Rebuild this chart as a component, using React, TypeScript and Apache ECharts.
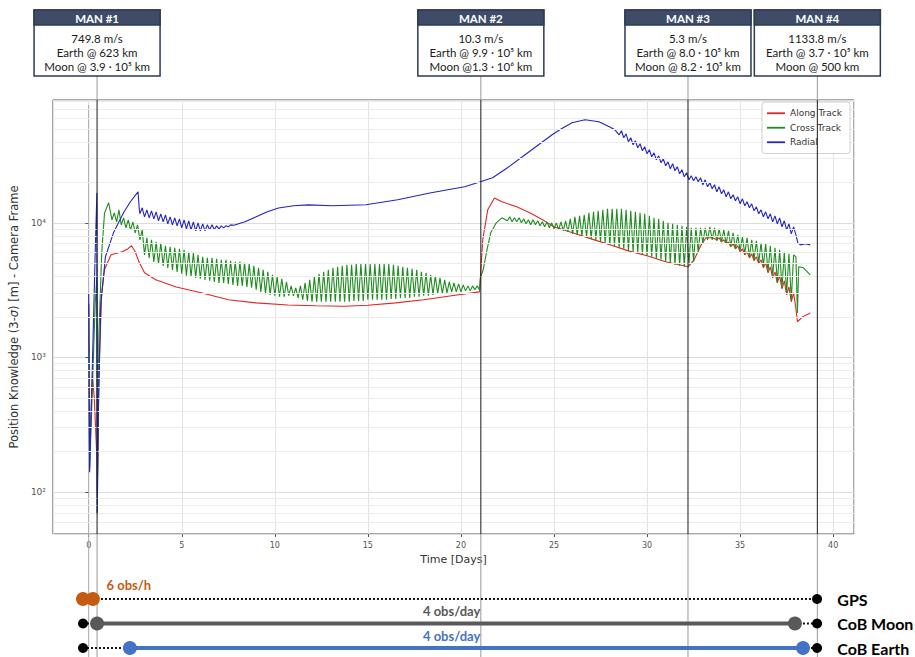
import { useEffect, useRef } from 'react';
import * as echarts from 'echarts';

// ---------------- axes ----------------
const X_MIN = -1.92;
const X_MAX = 41.12;
const Y_MIN = 48.7;
const Y_MAX = 81800;
const TOOTH_STEP = 0.25; // 4 observations per day -> sawtooth period

const seriesNames = ['Along Track', 'Cross Track', 'Radial'];
const seriesColors = ['#e02626', '#1f8c1f', '#2424c0'];

const minorGridValues = [
  60, 70, 80, 90, 200, 300, 400, 500, 600, 700, 800, 900,
  2000, 3000, 4000, 5000, 6000, 7000, 8000, 9000,
  20000, 30000, 40000, 50000, 60000, 70000, 80000,
];

// ---------------- Along Track (red) ----------------
const alongPts = [
  [0, 2500], [0.05, 200], [0.2, 730], [0.3, 500], [0.44, 180], [0.46, 100], [0.55, 800], [0.7, 3000],
  [0.85, 4500], [1.2, 5800], [1.8, 6100], [2.1, 6400], [2.3, 6750], [2.5, 6100], [2.7, 5130], [3.0, 4250],
  [3.6, 3770], [4.7, 3340], [6.1, 3010], [7.5, 2680], [9.0, 2540], [10.7, 2450], [12.2, 2420], [13.7, 2400],
  [15.0, 2440], [16.5, 2540], [18.0, 2680], [19.5, 2870], [21.0, 3070], [21.05, 4000], [21.17, 7470],
  [21.44, 12490], [21.8, 15300], [22.2, 14330], [23.0, 13150], [23.8, 11670], [24.5, 10300], [25.0, 9340],
  [26.0, 8430], [27.0, 7600], [28.0, 6860], [29.0, 6190], [30.0, 5690], [31.0, 5130], [32.21, 4710],
  [32.53, 5310], [32.91, 6860], [33.17, 7740], [33.5, 7740],
];
const alongTeethStart = 33.75;
const alongPeaks = [7740, 7470, 7220, 6980, 6740, 6410, 6090, 5880, 5590, 5310, 5040, 4710, 4320, 4040, 3710, 3340, 3020];
const alongTroughs = [7470, 7220, 6980, 6630, 6410, 6090, 5780, 5490, 5220, 4960, 4630, 4250, 3900, 3580, 3230, 2910, 2590];
const alongEnd = [[38.0, 2300], [38.08, 1840], [38.35, 2000], [38.77, 2140]];

// ---------------- Cross Track (green) ----------------
const crossStart = [
  [0, 2500], [0.05, 150], [0.2, 600], [0.35, 2500], [0.44, 4000], [0.46, 68], [0.55, 1500], [0.7, 6000],
  [0.85, 11800], [1.07, 14100],
];
const crossTeeth1Start = 1.25;
const crossPeaks1 = [
  11870, 12490, 10890, 10530, 10170, 9660, 8870, 7740, 7470, 7220,
  7100, 6740, 6630, 6520, 6410, 6300, 6090, 5980, 5780, 5590,
  5490, 5490, 5400, 5310, 5310, 5220, 5130, 5130, 5040, 4960,
  4790, 4630, 4470, 4320, 4110, 3970, 3840, 3640, 3400, 3290,
  3400, 3580, 3770, 3970, 4180, 4320, 4470, 4630, 4710, 4790,
  4870, 4870, 4960, 4960, 4960, 4960, 4960, 4960, 4960, 4960,
  4870, 4790, 4710, 4630, 4550, 4470, 4320, 4250, 4110, 4040,
  3900, 3770, 3640, 3580, 3520, 3460, 3400, 3400, 3400,
];
const crossTroughs1 = [
  10530, 10170, 9660, 9180, 8870, 8430, 7470, 5780, 5490, 5130,
  4960, 4790, 4630, 4470, 4320, 4180, 4040, 3970, 3900, 3840,
  3770, 3710, 3640, 3580, 3580, 3520, 3460, 3400, 3400, 3340,
  3290, 3180, 3070, 2970, 2910, 2870, 2820, 2820, 2870, 2870,
  2770, 2680, 2630, 2590, 2590, 2590, 2590, 2590, 2590, 2590,
  2590, 2590, 2630, 2630, 2630, 2680, 2680, 2680, 2680, 2680,
  2720, 2720, 2770, 2770, 2770, 2820, 2820, 2870, 2870, 2910,
  2970, 2970, 3020, 3070, 3070, 3070, 3120, 3120, 3180,
];
const crossMid = [[21.0, 3180], [21.05, 3900], [21.2, 4500], [21.4, 6300], [21.6, 8430], [21.9, 10000], [22.2, 10900]];
const crossTeeth2Start = 22.5;
const crossPeaks2 = [
  11080, 10890, 10890, 10710, 10530, 10530, 10350, 10170, 10170, 10000,
  10000, 10170, 10350, 10710, 11080, 11270, 11470, 11870, 12070, 12280,
  12490, 12710, 12710, 12710, 12710, 12490, 12280, 12070, 11870, 11670,
  11270, 10890, 10710, 10350, 10000, 9830, 9660, 9500, 9340,
];
const crossTroughs2 = [
  10350, 10170, 10170, 10000, 9830, 9660, 9660, 9500, 9340, 9180,
  9020, 8870, 8720, 8570, 8280, 8140, 8000, 7870, 7600, 7470,
  7220, 7100, 6860, 6740, 6520, 6410, 6190, 6090, 5980, 5780,
  5690, 5590, 5400, 5310, 5130, 5040, 4870, 4790, 4710,
];
const crossTeeth3Start = 32.25;
const crossPeaks3 = [9180, 9180, 9180, 9180, 9340, 9180, 9020, 8870, 8720, 8430, 8140, 7870, 7740, 7470, 7350, 7100, 6980, 6740, 6520, 6300, 6090, 5880, 5780];
const crossTroughs3 = [4870, 5130, 6090, 7100, 7470, 7470, 7350, 7220, 6980, 6740, 6410, 6190, 5880, 5590, 5310, 5040, 4790, 4320, 3970, 3580, 3290, 2970, 2680];
const crossEnd = [[38.0, 5590], [38.08, 2140], [38.15, 4710], [38.4, 4630], [38.77, 4110]];

// ---------------- Radial (blue) ----------------
const radialStart = [
  [0, 3000], [0.05, 140], [0.2, 900], [0.35, 6000], [0.44, 16700], [0.46, 70], [0.52, 400], [0.65, 2500],
  [0.9, 5600], [1.33, 8430], [1.87, 11870], [2.24, 14350], [2.65, 17000], [2.72, 12500],
];
const radialTeeth1Start = 2.75;
const radialPeaks1 = [12930, 12490, 12280, 12070, 11670, 11470, 11080, 10890, 10710, 10530, 10350, 10170, 10000, 9830, 9660, 9660, 9500, 9500, 9500, 9660];
const radialTroughs1 = [11670, 11080, 10890, 10710, 10350, 10170, 9830, 9660, 9500, 9180, 9020, 8870, 8720, 8720, 8720, 8870, 8870, 9020, 9180, 9340];
const radialMid = [
  [7.8, 9600], [8.4, 10200], [9.0, 11100], [9.6, 12100], [10.2, 12900], [11.0, 13400], [11.8, 13600],
  [13.1, 13380], [14.9, 13610], [16.6, 14830], [18.4, 16710], [20.2, 18520], [21.05, 20180], [21.7, 21610],
  [22.5, 25650], [23.3, 30950], [24.1, 37380], [24.9, 45110], [25.4, 49940], [25.97, 55400], [26.67, 58330],
  [27.41, 56350], [28.0, 51500], [28.27, 49130],
];
const radialTeeth2Start = 28.5;
const radialPeaks2 = [
  48310, 45880, 42850, 40710, 38670, 36740, 34890, 33140, 31480, 29900,
  28410, 27460, 26090, 24780, 23540, 22360, 21980, 21610, 20880, 19840,
  19170, 18520, 17590, 17000, 16150, 15610, 15080, 14330, 13840, 13150,
  12490, 12070, 11670, 11270, 10890, 10350, 9830, 9340,
];
const radialTroughs2 = [
  45110, 42850, 40020, 38020, 36110, 34300, 32580, 30950, 29400, 27930,
  26530, 25210, 24360, 23140, 21980, 20880, 20530, 20180, 19170, 18520,
  17890, 17000, 16430, 15610, 15080, 14570, 13840, 13380, 12930, 12280,
  11670, 11080, 10710, 10170, 9830, 9340, 8870, 8280,
];
const radialEnd = [[38.0, 8140], [38.1, 7100], [38.24, 6860], [38.5, 6980], [38.77, 6860]];

// ---------------- maneuvers ----------------
const maneuverNames = ['MAN #1', 'MAN #2', 'MAN #3', 'MAN #4'];
const maneuverDays = [0.45, 21.07, 32.2, 39.15];
const maneuverDv = ['749.8 m/s', '10.3 m/s', '5.3 m/s', '1133.8 m/s'];
const maneuverEarth = ['Earth @ 623 km', 'Earth @ 9.9 · 10⁵ km', 'Earth @ 8.0 · 10⁵ km', 'Earth @ 3.7 · 10⁵ km'];
const maneuverMoon = ['Moon @ 3.9 · 10⁵ km', 'Moon @1.3 · 10⁶ km', 'Moon @ 8.2 · 10⁵ km', 'Moon @ 500 km'];

// ---------------- measurement timeline ----------------
const trackRows = ['GPS', 'CoB Moon', 'CoB Earth'];
const trackColors = ['#c55a11', '#595959', '#4472c4'];
const missionStart = 0;
const missionEnd = 39.15;
const gpsDenseDays = [0, 0.53];
const moonActiveDays = [0.75, 37.97];
const earthActiveDays = [2.5, 38.4];
const rateLabels = ['6 obs/h', '4 obs/day', '4 obs/day'];
const rateLabelDay = 19.5;

const SUP: Record<string, string> = { '0': '⁰', '1': '¹', '2': '²', '3': '³', '4': '⁴', '5': '⁵', '6': '⁶', '7': '⁷', '8': '⁸', '9': '⁹' };

function teeth(start: number, peaks: number[], troughs: number[]) {
  const out: number[][] = [];
  for (let i = 0; i < peaks.length; i++) {
    const d = start + i * TOOTH_STEP;
    out.push([d, troughs[i]], [d + TOOTH_STEP / 2, peaks[i]]);
  }
  return out;
}

const alongData = [...alongPts, ...teeth(alongTeethStart, alongPeaks, alongTroughs), ...alongEnd];
const crossData = [
  ...crossStart,
  ...teeth(crossTeeth1Start, crossPeaks1, crossTroughs1),
  ...crossMid,
  ...teeth(crossTeeth2Start, crossPeaks2, crossTroughs2),
  ...teeth(crossTeeth3Start, crossPeaks3, crossTroughs3),
  ...crossEnd,
];
const radialData = [
  ...radialStart,
  ...teeth(radialTeeth1Start, radialPeaks1, radialTroughs1),
  ...radialMid,
  ...teeth(radialTeeth2Start, radialPeaks2, radialTroughs2),
  ...radialEnd,
];
const curveData = [alongData, crossData, radialData];

const PLOT_FONT = 'DejaVu Sans';
const INFO_FONT = 'Lato';

export default function App() {
  const ref = useRef<HTMLDivElement>(null);

  useEffect(() => {
    document.body.style.margin = '0';
    const chart = echarts.init(ref.current!, undefined, { renderer: 'svg' });

    const dotted = (pts: number[][]) => ({
      type: 'line', xAxisIndex: 1, yAxisIndex: 1, data: pts, symbol: 'none', silent: true, clip: false, z: 3,
      lineStyle: { color: '#111', width: 2, type: [2, 2] },
    });
    const solid = (pts: number[][], color: string) => ({
      type: 'line', xAxisIndex: 1, yAxisIndex: 1, data: pts, symbol: 'none', silent: true, clip: false, z: 4,
      lineStyle: { color, width: 4, type: 'solid' },
    });
    const dots = (pts: number[][], color: string, size: number) => ({
      type: 'scatter', xAxisIndex: 1, yAxisIndex: 1, data: pts, symbolSize: size, silent: true, clip: false, z: 5,
      itemStyle: { color, opacity: 1 },
    });

    const option: any = {
      animation: false,
      textStyle: { fontFamily: PLOT_FONT },
      grid: [
        { left: 47, right: 61, top: 100, bottom: 123, show: true, borderColor: '#555', borderWidth: 1, backgroundColor: 'transparent' },
        { left: 47, right: 61, top: 599, height: 49, show: false },
      ],
      legend: {
        data: seriesNames.map((name) => ({ name, icon: 'rect' })),
        left: 762, top: 102, orient: 'vertical', itemWidth: 18, itemHeight: 1.8, itemGap: 4, z: 10,
        padding: [6, 8, 6, 5], borderColor: '#d0d0d0', borderWidth: 1, borderRadius: 3,
        backgroundColor: '#ffffff',
        textStyle: { fontSize: 9, color: '#333', fontFamily: PLOT_FONT, lineHeight: 10.5 },
      },
      xAxis: [
        {
          type: 'value', gridIndex: 0, min: X_MIN, max: X_MAX, splitNumber: 9,
          name: 'Time [Days]', nameLocation: 'middle', nameGap: 15,
          nameTextStyle: { fontSize: 11, color: '#333', fontFamily: PLOT_FONT },
          axisLine: { show: false },
          axisTick: { show: true, length: 3, lineStyle: { color: '#555' } },
          axisLabel: {
            fontSize: 8, color: '#555', margin: 7, showMinLabel: false, showMaxLabel: false,
            formatter: (v: number) => (Math.abs(v % 5) < 1e-9 ? String(v) : ''),
          },
          splitLine: { show: true, lineStyle: { color: '#e3e3e3', width: 1 } },
        },
        { type: 'value', gridIndex: 1, min: X_MIN, max: X_MAX, show: false },
      ],
      yAxis: [
        {
          type: 'log', logBase: 10, gridIndex: 0, min: Y_MIN, max: Y_MAX,
          name: 'Position Knowledge (3-{i|σ}) [m] - Camera Frame', nameLocation: 'middle', nameGap: 23,
          nameTextStyle: { fontSize: 11.5, color: '#333', fontFamily: PLOT_FONT, rich: { i: { fontStyle: 'italic', fontSize: 11.5, fontFamily: PLOT_FONT, color: '#333' } } },
          axisLine: { show: false },
          axisTick: { show: true, length: 3.5, lineStyle: { color: '#555' } },
          axisLabel: {
            fontSize: 9, color: '#555', margin: 7, showMinLabel: false, showMaxLabel: false,
            formatter: (v: number) => {
              const l = Math.log10(v);
              const e = Math.round(l);
              if (Math.abs(l - e) > 1e-6) return '';
              return '10' + String(e).split('').map((c) => SUP[c] || c).join('');
            },
          },
          splitLine: { show: true, lineStyle: { color: '#dcdcdc', width: 1 } },
        },
        { type: 'value', gridIndex: 1, min: 0, max: 2, inverse: true, show: false },
      ],
      series: [
        {
          name: 'minor grid', type: 'line', xAxisIndex: 0, yAxisIndex: 0, data: [], z: 1, silent: true,
          markLine: {
            silent: true, symbol: ['none', 'none'], label: { show: false }, animation: false,
            lineStyle: { color: '#ececec', width: 1, type: 'solid' },
            data: minorGridValues.map((v) => ({ yAxis: v })),
          },
        },
        ...seriesNames.map((name, i) => ({
          name, type: 'line', xAxisIndex: 0, yAxisIndex: 0, data: curveData[i], symbol: 'none', z: 2 + i,
          lineStyle: { color: seriesColors[i], width: 1.1 }, itemStyle: { color: seriesColors[i] },
        })),
        dotted([[gpsDenseDays[1], 0], [missionEnd, 0]]),
        dotted([[missionStart, 1], [moonActiveDays[0], 1]]),
        dotted([[moonActiveDays[1], 1], [missionEnd, 1]]),
        dotted([[missionStart, 2], [earthActiveDays[0], 2]]),
        dotted([[earthActiveDays[1], 2], [missionEnd, 2]]),
        solid(moonActiveDays.map((d) => [d, 1]), trackColors[1]),
        solid(earthActiveDays.map((d) => [d, 2]), trackColors[2]),
        dots([[missionStart, 1], [missionStart, 2], [missionEnd, 0], [missionEnd, 1], [missionEnd, 2]], '#000', 10),
        dots(gpsDenseDays.map((d) => [d, 0]), trackColors[0], 14),
        dots(moonActiveDays.map((d) => [d, 1]), trackColors[1], 14),
        dots(earthActiveDays.map((d) => [d, 2]), trackColors[2], 14),
      ],
    };
    chart.setOption(option);

    const px = (d: number) => chart.convertToPixel({ xAxisIndex: 0 }, d) as unknown as number;
    const plotTop = chart.convertToPixel({ yAxisIndex: 0 }, Y_MAX) as unknown as number;
    const plotBottom = chart.convertToPixel({ yAxisIndex: 0 }, Y_MIN) as unknown as number;
    const rowY = (i: number) => chart.convertToPixel({ yAxisIndex: 1 }, i) as unknown as number;
    const H = chart.getHeight();

    const BOX_W = 126;
    const BOX_TOP = 10;
    const BOX_H = 66;
    const HEAD_H = 15;

    const elements: any[] = [];
    const x0 = px(missionStart);
    elements.push({ type: 'line', silent: true, z: 1, shape: { x1: x0, y1: plotTop + 5, x2: x0, y2: H }, style: { stroke: '#a8a8a8', lineWidth: 1 } });

    maneuverDays.forEach((d, i) => {
      const x = px(d);
      elements.push({ type: 'line', silent: true, z: 1, shape: { x1: x, y1: BOX_TOP + BOX_H, x2: x, y2: plotTop }, style: { stroke: '#999', lineWidth: 1 } });
      elements.push({ type: 'line', silent: true, z: 50, shape: { x1: x, y1: plotTop, x2: x, y2: plotBottom }, style: { stroke: '#1a1a1a', lineWidth: 1 } });
      elements.push({ type: 'line', silent: true, z: 1, shape: { x1: x, y1: plotBottom, x2: x, y2: H }, style: { stroke: '#999', lineWidth: 1 } });
      const left = x - BOX_W / 2;
      elements.push({ type: 'rect', silent: true, z: 60, shape: { x: left, y: BOX_TOP, width: BOX_W, height: BOX_H }, style: { fill: '#fff', stroke: '#2e3b55', lineWidth: 1.5 } });
      elements.push({ type: 'rect', silent: true, z: 61, shape: { x: left, y: BOX_TOP, width: BOX_W, height: HEAD_H }, style: { fill: '#3e4c68', stroke: '#2e3b55', lineWidth: 1.5 } });
      elements.push({ type: 'text', silent: true, z: 62, x, y: BOX_TOP + HEAD_H / 2 + 0.5, style: { text: maneuverNames[i], fill: '#fff', font: `bold 11.5px ${INFO_FONT}`, align: 'center', verticalAlign: 'middle' } });
      [maneuverDv[i], maneuverEarth[i], maneuverMoon[i]].forEach((t, k) => {
        elements.push({ type: 'text', silent: true, z: 62, x, y: BOX_TOP + 28 + k * 14, style: { text: t, fill: '#1a1a1a', font: `11.5px ${INFO_FONT}`, align: 'center', verticalAlign: 'middle' } });
      });
    });

    elements.push({ type: 'text', silent: true, z: 20, x: px(gpsDenseDays[1]) + 8, y: rowY(0) - 14, style: { text: rateLabels[0], fill: trackColors[0], font: `bold 13px ${INFO_FONT}`, align: 'left', verticalAlign: 'middle' } });
    elements.push({ type: 'text', silent: true, z: 20, x: px(rateLabelDay), y: rowY(1) - 13, style: { text: rateLabels[1], fill: trackColors[1], font: `bold 13px ${INFO_FONT}`, align: 'center', verticalAlign: 'middle' } });
    elements.push({ type: 'text', silent: true, z: 20, x: px(rateLabelDay), y: rowY(2) - 12, style: { text: rateLabels[2], fill: trackColors[2], font: `bold 13px ${INFO_FONT}`, align: 'center', verticalAlign: 'middle' } });
    trackRows.forEach((name, i) => {
      elements.push({ type: 'text', silent: true, z: 20, x: px(missionEnd) + 20, y: rowY(i), style: { text: name, fill: '#000', font: `bold 16px ${INFO_FONT}`, align: 'left', verticalAlign: 'middle' } });
    });

    chart.setOption({ graphic: elements });
    return () => chart.dispose();
  }, []);

  return <div ref={ref} style={{ width: 915, height: 657 }} />;
}
